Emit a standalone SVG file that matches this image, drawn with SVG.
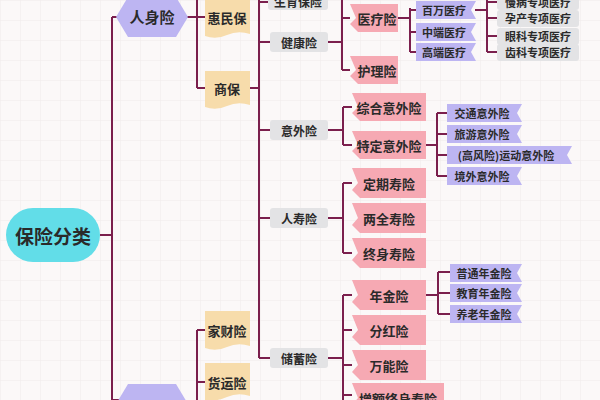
<svg xmlns="http://www.w3.org/2000/svg" width="600" height="400" viewBox="0 0 600 400">
<defs>
<pattern id="grid" width="20" height="20" patternUnits="userSpaceOnUse"><path d="M20 0H0V20" fill="none" stroke="#efeaea" stroke-width="1"/></pattern>
<style>
text{font-family:"Noto Sans CJK SC","Noto Sans CJK TC",sans-serif;font-weight:bold;fill:#2a2a2a;text-anchor:middle;dominant-baseline:central}
.c{fill:none;stroke:#7b1f4d;stroke-width:2}
.pk{fill:#f6a9b3}.pu{fill:#bdb5f2}.gy{fill:#e3e3e5}.tn{fill:#f7dcab}
.s13{font-size:13px}.s12{font-size:12px}.s11{font-size:11px}
</style>
</defs>
<rect width="600" height="400" fill="#fbf8f8"/>
<rect width="600" height="400" fill="url(#grid)"/>
<g id="connectors">
<path class="c" d="M100 235H112M112 17V400M112 17H120M112 400H120"/>
<path class="c" d="M187 17H197M197 0V88M197 17H205M197 88H205"/>
<path class="c" d="M197 330V400M197 330H205M197 382H205"/>
<path class="c" d="M250 88H259M259 0V358M259 2H268M259 42H270M259 130H270M259 218H270M259 358H270"/>
<path class="c" d="M327 42H342M342 0V70M342 18H350M342 70H350"/>
<path class="c" d="M398 18H410M410 8V52M410 10H416M410 32H416M410 52H416"/>
<path class="c" d="M475 10H487M487 0V52M487 2H497M487 18H497M487 36H497M487 52H497"/>
<path class="c" d="M327 130H343M343 107V145M343 107H352M343 145H352"/>
<path class="c" d="M425 145H437M437 113V176M437 113H447M437 134H447M437 155H447M437 176H447"/>
<path class="c" d="M327 218H343M343 183V253M343 183H352M343 253H352"/>
<path class="c" d="M327 358H343M343 295V400M343 295H352M343 330H352M343 365H352M343 395H352"/>
<path class="c" d="M425 295H438M438 272V314M438 272H450M438 293H450M438 314H450"/>
</g>
<g id="root"><rect x="6" y="208" width="94" height="54" rx="27" fill="#62dde8"/><text x="53" y="235" font-size="19">保险分类</text></g>
<g id="renshen"><polygon points="128,-3 176,-3 188,17 176,37 128,37 116,17" class="pu"/><text x="152" y="16" font-size="15">人身险</text></g>
<g id="caichan"><polygon points="128,384 176,384 188,404 176,424 128,424 116,404" class="pu"/></g>
<g id="huiminbao"><path class="tn" d="M205 -4H250V34Q238 30 227 35T205 36Z"/><text x="227" y="17" class="s13">惠民保</text></g>
<g id="shangbao"><path class="tn" d="M205 71H250V105Q238 101 227 106T205 107Z"/><text x="227" y="88" class="s13">商保</text></g>
<g id="jiacai"><path class="tn" d="M205 311H250V346Q238 342 227 347T205 348Z"/><text x="227" y="330" class="s13">家财险</text></g>
<g id="huoyun"><path class="tn" d="M205 363H250V396Q238 392 227 397T205 400Z"/><text x="227" y="382" class="s13">货运险</text></g>
<g id="shengyu"><rect x="268" y="-8" width="60" height="18" rx="3" class="gy"/><text x="298" y="1" class="s12">生育保险</text></g>
<g id="jiankang"><rect x="270" y="32" width="58" height="20" rx="3" class="gy"/><text x="299" y="42" class="s12">健康险</text></g>
<g id="yiwai"><rect x="270" y="120" width="58" height="20" rx="3" class="gy"/><text x="299" y="130" class="s12">意外险</text></g>
<g id="renshou"><rect x="270" y="208" width="58" height="20" rx="3" class="gy"/><text x="299" y="218" class="s12">人寿险</text></g>
<g id="chuxu"><rect x="270" y="348" width="58" height="20" rx="3" class="gy"/><text x="299" y="358" class="s12">储蓄险</text></g>
<g id="yiliao"><polygon class="pk" points="350,4 398,4 398,32 358,32 350,24 356,18"/><text x="377" y="18" class="s13">医疗险</text></g>
<g id="huli"><polygon class="pk" points="350,56 398,56 398,84 358,84 350,76 356,70"/><text x="377" y="70" class="s13">护理险</text></g>
<g id="baiwan"><polygon class="pu" points="416,1 476,1 471,10 476,19 416,19"/><text x="444" y="10" class="s11">百万医疗</text></g>
<g id="zhongduan"><polygon class="pu" points="416,23 476,23 471,32 476,41 416,41"/><text x="444" y="32" class="s11">中端医疗</text></g>
<g id="gaoduan"><polygon class="pu" points="416,43 476,43 471,52 476,61 416,61"/><text x="444" y="52" class="s11">高端医疗</text></g>
<g id="manbing"><rect x="497" y="-7" width="82" height="17" rx="3" class="gy"/><text x="538" y="2" class="s11">慢病专项医疗</text></g>
<g id="yunchan"><rect x="497" y="10" width="82" height="17" rx="3" class="gy"/><text x="538" y="18" class="s11">孕产专项医疗</text></g>
<g id="yanke"><rect x="497" y="28" width="82" height="17" rx="3" class="gy"/><text x="538" y="36" class="s11">眼科专项医疗</text></g>
<g id="chike"><rect x="497" y="44" width="82" height="17" rx="3" class="gy"/><text x="538" y="52" class="s11">齿科专项医疗</text></g>
<g id="zonghe"><polygon class="pk" points="352,93 426,93 426,121 360,121 352,113 358,107"/><text x="389" y="107" class="s13">综合意外险</text></g>
<g id="teding"><polygon class="pk" points="352,131 426,131 426,159 360,159 352,151 358,145"/><text x="389" y="145" class="s13">特定意外险</text></g>
<g id="jiaotong"><polygon class="pu" points="447,104 522,104 517,113 522,122 447,122"/><text x="482" y="113" class="s11">交通意外险</text></g>
<g id="lvyou"><polygon class="pu" points="447,125 522,125 517,134 522,143 447,143"/><text x="482" y="134" class="s11">旅游意外险</text></g>
<g id="gaofengxian"><polygon class="pu" points="447,146 572,146 567,155 572,164 447,164"/><text x="506" y="155" class="s11">(高风险)运动意外险</text></g>
<g id="jingwai"><polygon class="pu" points="447,167 522,167 517,176 522,185 447,185"/><text x="482" y="176" class="s11">境外意外险</text></g>
<g id="dingqi"><polygon class="pk" points="352,168 426,168 426,198 360,198 352,190 358,183"/><text x="389" y="183" class="s13">定期寿险</text></g>
<g id="liangquan"><polygon class="pk" points="352,203 426,203 426,233 360,233 352,225 358,218"/><text x="389" y="218" class="s13">两全寿险</text></g>
<g id="zhongshen"><polygon class="pk" points="352,238 426,238 426,268 360,268 352,260 358,253"/><text x="389" y="253" class="s13">终身寿险</text></g>
<g id="nianjin"><polygon class="pk" points="352,280 426,280 426,310 360,310 352,302 358,295"/><text x="389" y="295" class="s13">年金险</text></g>
<g id="fenhong"><polygon class="pk" points="352,315 426,315 426,345 360,345 352,337 358,330"/><text x="389" y="330" class="s13">分红险</text></g>
<g id="wanneng"><polygon class="pk" points="352,350 426,350 426,380 360,380 352,372 358,365"/><text x="389" y="365" class="s13">万能险</text></g>
<g id="zenge"><polygon class="pk" points="352,383 444,383 444,413 360,413 352,405 358,398"/><text x="398" y="398" class="s13">增额终身寿险</text></g>
<g id="putong"><polygon class="pu" points="450,264 522,264 517,273 522,282 450,282"/><text x="484" y="273" class="s11">普通年金险</text></g>
<g id="jiaoyu"><polygon class="pu" points="450,284 522,284 517,293 522,302 450,302"/><text x="484" y="293" class="s11">教育年金险</text></g>
<g id="yanglao"><polygon class="pu" points="450,305 522,305 517,314 522,323 450,323"/><text x="484" y="314" class="s11">养老年金险</text></g>
</svg>
